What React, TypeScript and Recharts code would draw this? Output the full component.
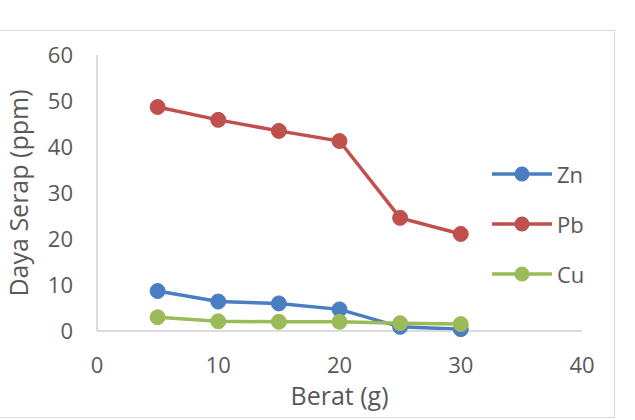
import React from 'react';
import { LineChart, Line, XAxis, YAxis, Legend } from 'recharts';

const berat = [5, 10, 15, 20, 25, 30];
const zn = [8.7, 6.4, 6.0, 4.7, 0.9, 0.4];
const pb = [48.7, 45.9, 43.5, 41.3, 24.6, 21.1];
const cu = [3.0, 2.1, 2.0, 2.0, 1.7, 1.5];
const xTicks = [0, 10, 20, 30, 40];
const yTicks = [0, 10, 20, 30, 40, 50, 60];

const seriesNames = ['Zn', 'Pb', 'Cu'];
const colors: Record<string, string> = { Zn: '#4A7EC2', Pb: '#C0504D', Cu: '#9BBB59' };

const data = berat.map((b, i) => ({ berat: b, Zn: zn[i], Pb: pb[i], Cu: cu[i] }));

const FONT = '"Open Sans", sans-serif';
const TEXT = '#595959';
const AXIS = '#d0d0d0';

const LegendContent = () => (
  <div style={{ fontFamily: FONT }}>
    {seriesNames.map((n) => (
      <div key={n} style={{ height: 50, display: 'flex', alignItems: 'center' }}>
        <svg width={64} height={20} style={{ display: 'block' }}>
          <line x1={2} y1={10} x2={62} y2={10} stroke={colors[n]} strokeWidth={3.5} />
          <circle cx={32} cy={10} r={7.5} fill={colors[n]} />
        </svg>
        <span style={{ color: TEXT, fontSize: 22, marginLeft: 3, lineHeight: '20px' }}>{n}</span>
      </div>
    ))}
  </div>
);

export default function App() {
  return (
    <div style={{ position: 'absolute', left: 0, top: 0, width: 635, height: 420, background: '#fff', overflow: 'hidden' }}>
      <div
        style={{
          position: 'absolute',
          left: -2,
          top: 30,
          width: 617,
          height: 388,
          border: '1px solid #d9d9d9',
          boxSizing: 'border-box',
        }}
      />
      <LineChart
        width={635}
        height={420}
        data={data}
        margin={{ top: 55, right: 53, bottom: 19, left: 7 }}
        style={{ position: 'absolute', left: 0, top: 0 }}
      >
        <XAxis
          dataKey="berat"
          type="number"
          domain={[0, 40]}
          ticks={xTicks}
          tickLine={false}
          tickSize={6}
          tickMargin={20}
          axisLine={{ stroke: AXIS, strokeWidth: 1.5 }}
          tick={{ fill: TEXT, fontSize: 22, fontFamily: FONT }}
          height={70}
          label={{ value: 'Berat (g)', position: 'center', dy: 30, fill: TEXT, fontSize: 25, fontFamily: FONT }}
        />
        <YAxis
          type="number"
          domain={[0, 60]}
          ticks={yTicks}
          tickLine={false}
          tickSize={6}
          tickMargin={18}
          axisLine={{ stroke: AXIS, strokeWidth: 1.5 }}
          tick={{ fill: TEXT, fontSize: 22, fontFamily: FONT }}
          width={90}
          label={{ value: 'Daya Serap (ppm)', angle: -90, position: 'center', dx: -33, fill: TEXT, fontSize: 25, fontFamily: FONT }}
        />
        <Legend
          layout="vertical"
          align="center"
          verticalAlign="middle"
          content={<LegendContent />}
          wrapperStyle={{ position: 'absolute', left: 490, top: 149, width: 120 }}
        />
        {seriesNames.map((n) => (
          <Line
            key={n}
            dataKey={n}
            name={n}
            stroke={colors[n]}
            strokeWidth={3.5}
            dot={{ r: 7.5, fill: colors[n], stroke: colors[n], strokeWidth: 1 }}
            activeDot={false}
            isAnimationActive={false}
          />
        ))}
      </LineChart>
    </div>
  );
}
